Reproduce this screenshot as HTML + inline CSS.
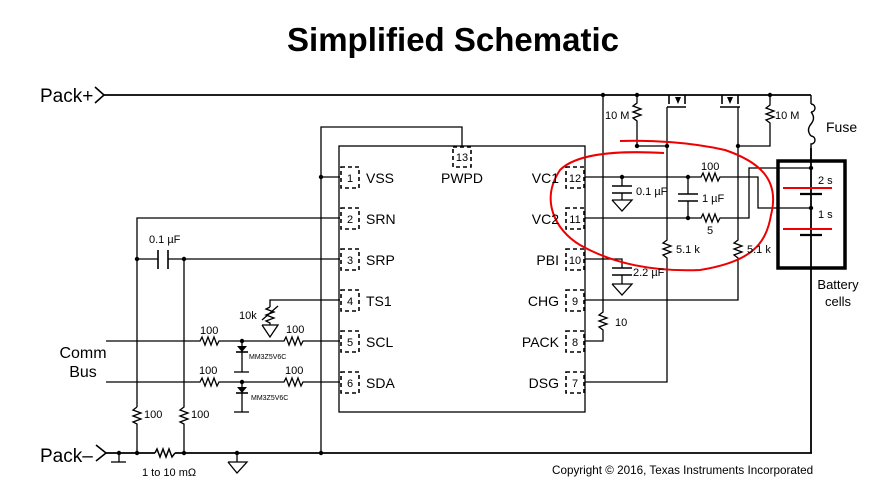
<!DOCTYPE html>
<html><head><style>
body{margin:0;background:#fff;}
svg{display:block;font-family:"Liberation Sans",sans-serif;}
</style></head><body>
<svg width="884" height="500" viewBox="0 0 884 500" xmlns="http://www.w3.org/2000/svg">
<rect width="884" height="500" fill="#fff"/>
<text x="453" y="51" font-size="33" font-weight="bold" text-anchor="middle" fill="#000">Simplified Schematic</text>
<g stroke="#000" stroke-width="1.3" fill="none">
<polyline points="95,87 104,95 95,103" stroke-width="1.6"/>
<line x1="104" y1="95" x2="811" y2="95" stroke-width="1.8"/>
<polyline points="96,445 106,453 96,461" stroke-width="1.6"/>
<line x1="106" y1="453" x2="155" y2="453" stroke-width="1.8"/>
<polyline points="155,453 157,449 160,457 163,449 166,457 169,449 172,457 175,453" stroke-width="1.5"/>
<line x1="175" y1="453" x2="812" y2="453" stroke-width="1.8"/>
<line x1="811" y1="453" x2="811" y2="148" stroke-width="1.8"/>
<rect x="339" y="146" width="246" height="266"/>
<polyline points="321,453 321,127 462,127 462,147"/>
<g stroke-dasharray="4,3" stroke-width="1.6">
<rect x="341" y="167" width="18" height="21"/><rect x="341" y="208" width="18" height="21"/>
<rect x="341" y="249" width="18" height="21"/><rect x="341" y="290" width="18" height="21"/>
<rect x="341" y="331" width="18" height="21"/><rect x="341" y="372" width="18" height="21"/>
<rect x="566" y="167" width="18" height="21"/><rect x="566" y="208" width="18" height="21"/>
<rect x="566" y="249" width="18" height="21"/><rect x="566" y="290" width="18" height="21"/>
<rect x="566" y="331" width="18" height="21"/><rect x="566" y="372" width="18" height="21"/>
<rect x="453" y="147" width="18" height="20"/>
</g>
<line x1="321" y1="177" x2="340" y2="177"/>
<polyline points="340,218 137,218 137,407"/>
<polyline points="137,407 133,410 141,413 133,416 141,419 133,422 137,424 137,453"/>
<line x1="137" y1="259" x2="158" y2="259"/>
<line x1="158" y1="250" x2="158" y2="269" stroke-width="1.6"/>
<line x1="168" y1="250" x2="168" y2="269" stroke-width="1.6"/>
<line x1="168" y1="259" x2="340" y2="259"/>
<polyline points="184,259 184,407 180,410 188,413 180,416 188,419 180,422 184,424 184,453"/>
<polyline points="340,300 270,300 270,307"/>
<polyline points="270,307 266,309 274,312 266,315 274,318 266,321 270,323 270,325"/>
<line x1="262" y1="320" x2="278" y2="306"/>
<polyline points="262,325 278,325 270,337 262,325"/>
<polyline points="106,341 200,341 202,337 205,345 208,337 211,345 214,337 217,345 219,341 284,341 286,337 289,345 292,337 295,345 298,337 301,345 303,341 340,341"/>
<polyline points="106,382 200,382 202,378 205,386 208,378 211,386 214,378 217,386 219,382 284,382 286,378 289,386 292,378 295,386 298,378 301,386 303,382 340,382"/>
<line x1="242" y1="341" x2="242" y2="372"/>
<line x1="242" y1="382" x2="242" y2="412"/>
<line x1="236" y1="352" x2="248" y2="352" stroke-width="1.6"/>
<line x1="236" y1="393" x2="248" y2="393" stroke-width="1.6"/>
<line x1="234" y1="372" x2="249" y2="372"/><line x1="234" y1="412" x2="249" y2="412"/>
<line x1="119" y1="453" x2="119" y2="462"/><line x1="111" y1="462" x2="126" y2="462"/>
<line x1="237" y1="453" x2="237" y2="462"/>
<polyline points="228,462 247,462 237,473 228,462"/>
<polyline points="603,95 603,312 599,315 607,318 599,321 607,324 599,327 603,330 603,341 585,341"/>
<polyline points="637,95 637,103 633,106 641,109 633,112 641,115 633,118 637,121 637,146 667,146"/>
<polyline points="667,107 667,240 663,243 671,246 663,249 671,252 663,255 667,258 667,382 585,382"/>
<polyline points="738,107 738,240 734,243 742,246 734,249 742,252 734,255 738,258 738,300 585,300"/>
<polyline points="738,146 770,146 770,123 766,120 774,117 766,114 774,111 766,108 770,105 770,95"/>
<line x1="667" y1="107" x2="686" y2="107" stroke-width="1.6"/>
<line x1="669" y1="95" x2="669" y2="104" stroke-width="1.6"/>
<line x1="685" y1="95" x2="685" y2="104" stroke-width="1.6"/>
<line x1="720" y1="107" x2="740" y2="107" stroke-width="1.6"/>
<line x1="722" y1="95" x2="722" y2="104" stroke-width="1.6"/>
<line x1="738" y1="95" x2="738" y2="104" stroke-width="1.6"/>
<polyline points="585,177 701,177 703,173 706,181 709,173 712,181 715,173 718,181 720,177 758,177 758,208 811,208"/>
<polyline points="585,218 701,218 703,214 706,222 709,214 712,222 715,214 718,222 720,218 749,218 749,168 811,168"/>
<polyline points="622,177 622,186"/>
<line x1="612" y1="186" x2="632" y2="186" stroke-width="1.6"/><line x1="612" y1="193" x2="632" y2="193" stroke-width="1.6"/>
<line x1="622" y1="193" x2="622" y2="200"/>
<polyline points="612,200 632,200 622,211 612,200"/>
<line x1="688" y1="177" x2="688" y2="194"/>
<line x1="678" y1="194" x2="698" y2="194" stroke-width="1.6"/><line x1="678" y1="201" x2="698" y2="201" stroke-width="1.6"/>
<line x1="688" y1="201" x2="688" y2="218"/>
<polyline points="585,259 622,259 622,268"/>
<line x1="612" y1="268" x2="632" y2="268" stroke-width="1.6"/><line x1="612" y1="275" x2="632" y2="275" stroke-width="1.6"/>
<line x1="622" y1="275" x2="622" y2="284"/>
<polyline points="612,284 632,284 622,295 612,284"/>
<path d="M811,95 L811,104 M811,104 a4,4 0 1 1 0,8 M811,112 q5,6 0,12 q-5,6 0,12 M811,136 a4,4 0 1 1 0,8 L811,160" stroke-width="1.4"/>
<rect x="778" y="161" width="67" height="107" stroke-width="3.5"/>
<line x1="800" y1="194" x2="822" y2="194" stroke-width="2.2"/>
<line x1="800" y1="235" x2="822" y2="235" stroke-width="2.2"/>
</g>
<g stroke="#e00" stroke-width="2" fill="none">
<line x1="783" y1="188" x2="832" y2="188"/>
<line x1="783" y1="229" x2="832" y2="229"/>
<path d="M620,141 C650,140 690,142 725,150 C760,162 780,180 771,215 C766,245 750,262 700,270 C650,272 610,262 580,245 C555,230 540,200 560,170 C575,155 610,150 664,153"/>
</g>
<g fill="#000">
<circle cx="321" cy="177" r="2.2"/><circle cx="137" cy="259" r="2.2"/><circle cx="184" cy="259" r="2.2"/>
<circle cx="242" cy="341" r="2.2"/><circle cx="242" cy="382" r="2.2"/>
<circle cx="119" cy="453" r="2.2"/><circle cx="137" cy="453" r="2.2"/><circle cx="184" cy="453" r="2.2"/>
<circle cx="237" cy="453" r="2.2"/><circle cx="321" cy="453" r="2.2"/>
<circle cx="603" cy="95" r="2.2"/><circle cx="637" cy="95" r="2.2"/><circle cx="770" cy="95" r="2.2"/>
<circle cx="637" cy="146" r="2.2"/><circle cx="667" cy="146" r="2.2"/><circle cx="738" cy="146" r="2.2"/>
<circle cx="622" cy="177" r="2.2"/><circle cx="688" cy="177" r="2.2"/><circle cx="688" cy="218" r="2.2"/>
<circle cx="811" cy="168" r="2.2"/><circle cx="811" cy="208" r="2.2"/>
<polygon points="237,346 247,346 242,352"/><polygon points="237,387 247,387 242,393"/>
<polygon points="675,97 681,97 678,104"/><polygon points="727,97 733,97 730,104"/>
</g>
<g font-size="14" fill="#000">
<text x="40" y="102" font-size="19">Pack+</text>
<text x="40" y="462" font-size="19">Pack–</text>
<text x="83" y="358" font-size="16" text-anchor="middle">Comm</text>
<text x="83" y="377" font-size="16" text-anchor="middle">Bus</text>
<text x="366" y="183">VSS</text><text x="366" y="224">SRN</text><text x="366" y="265">SRP</text>
<text x="366" y="306">TS1</text><text x="366" y="347">SCL</text><text x="366" y="388">SDA</text>
<text x="559" y="183" text-anchor="end">VC1</text><text x="559" y="224" text-anchor="end">VC2</text>
<text x="559" y="265" text-anchor="end">PBI</text><text x="559" y="306" text-anchor="end">CHG</text>
<text x="559" y="347" text-anchor="end">PACK</text><text x="559" y="388" text-anchor="end">DSG</text>
<text x="462" y="183" text-anchor="middle">PWPD</text>
<text x="826" y="132" font-size="14">Fuse</text>
<text x="838" y="289" font-size="13" text-anchor="middle">Battery</text>
<text x="838" y="306" font-size="13" text-anchor="middle">cells</text>
</g>
<g font-size="11" fill="#000" text-anchor="middle">
<text x="350" y="182">1</text><text x="350" y="223">2</text><text x="350" y="264">3</text>
<text x="350" y="305">4</text><text x="350" y="346">5</text><text x="350" y="387">6</text>
<text x="575" y="182">12</text><text x="575" y="223">11</text><text x="575" y="264">10</text>
<text x="575" y="305">9</text><text x="575" y="346">8</text><text x="575" y="387">7</text>
<text x="462" y="161">13</text>
</g>
<g font-size="11" fill="#000">
<text x="149" y="243">0.1 µF</text>
<text x="144" y="418">100</text><text x="191" y="418">100</text>
<text x="200" y="334">100</text><text x="286" y="333">100</text>
<text x="199" y="374">100</text><text x="285" y="374">100</text>
<text x="239" y="319">10k</text>
<text x="142" y="476">1 to 10 mΩ</text>
<text x="605" y="119">10 M</text><text x="775" y="119">10 M</text>
<text x="615" y="326">10</text>
<text x="676" y="253">5.1 k</text><text x="747" y="253">5.1 k</text>
<text x="701" y="170">100</text><text x="707" y="234">5</text>
<text x="636" y="195">0.1 µF</text><text x="702" y="202">1 µF</text>
<text x="633" y="276">2.2 µF</text>
<text x="818" y="184">2 s</text><text x="818" y="218">1 s</text>
<text x="552" y="474" font-size="11.7">Copyright © 2016, Texas Instruments Incorporated</text>
<text x="249" y="359" font-size="7">MM3Z5V6C</text><text x="251" y="400" font-size="7">MM3Z5V6C</text>
</g>
</svg>
</body></html>
